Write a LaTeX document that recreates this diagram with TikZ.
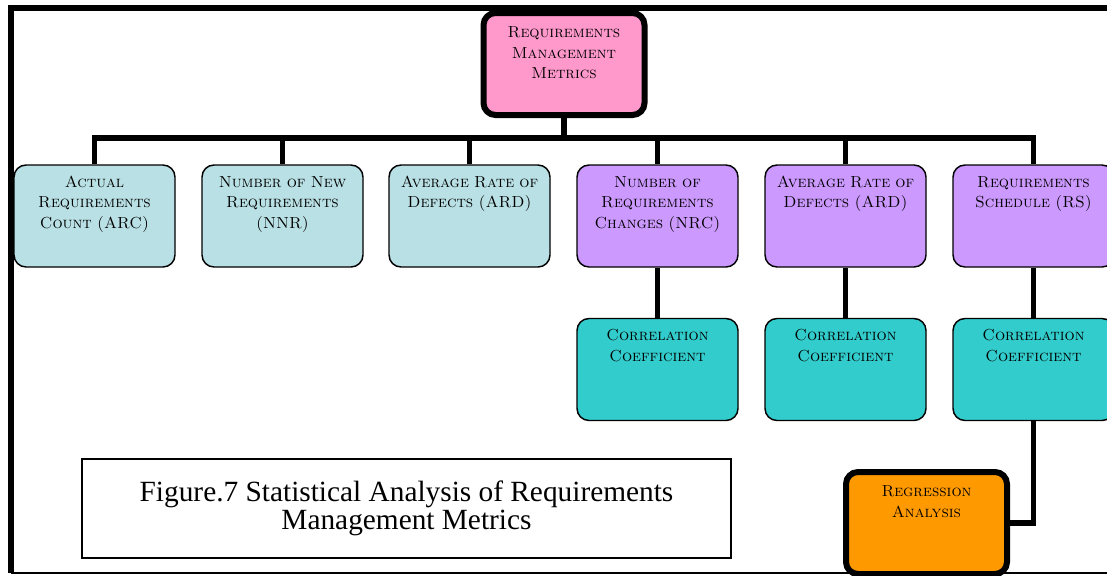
\documentclass[tikz,border=0pt]{standalone}
\usepackage{fontspec}
\newfontfamily\figfont{Liberation Serif}
\definecolor{rootpink}{RGB}{255,153,204}
\definecolor{paleblue}{RGB}{185,224,228}
\definecolor{lilac}{RGB}{204,153,255}
\definecolor{corrteal}{RGB}{51,204,204}
\definecolor{regorange}{RGB}{255,153,0}
\begin{document}
\begin{tikzpicture}[x=0.75pt,y=-0.75pt,
        metric/.style={draw,line width=1.1pt,rounded corners=9pt,minimum width=120.75pt,
            text width=114pt,align=center,inner ysep=7.5pt,text height=9pt,text depth=52.5pt,
            font=\fontsize{12}{15.4}\selectfont\scshape},
        bigmetric/.style={metric,line width=4.5pt,text height=11pt,text depth=50.5pt},
        link/.style={line width=4.2pt}]
                \useasboundingbox (0,0) rectangle (1107,575);
                \draw[line width=4.5pt] (1115,8) -- (11,8) -- (11,573);
                \draw[line width=1.1pt] (11,573) -- (1115,573);
                \node[bigmetric,fill=rootpink] (rmm) at (564,64) {Requirements\\Management\\Metrics};
                \coordinate (bus) at (564,138);
                \node[metric,fill=paleblue] (arc) at (94.5,216) {Actual\\Requirements\\Count (ARC)};
                \node[metric,fill=paleblue] (nnr) at (282.5,216) {Number of New\\Requirements\\(NNR)};
                \node[metric,fill=paleblue] (ard) at (469.5,216) {Average Rate of\\Defects (ARD)};
                \node[metric,fill=lilac] (nrc) at (657.5,216) {Number of\\Requirements\\Changes (NRC)};
                \node[metric,fill=lilac] (ardb) at (845.5,216) {Average Rate of\\Defects (ARD)};
                \node[metric,fill=lilac] (rs) at (1033.5,216) {Requirements\\Schedule (RS)};
                \node[metric,fill=corrteal] (ccnrc) at (657.5,369.5) {Correlation\\Coefficient};
                \node[metric,fill=corrteal] (ccard) at (845.5,369.5) {Correlation\\Coefficient};
                \node[metric,fill=corrteal] (ccrs) at (1033.5,369.5) {Correlation\\Coefficient};
                \node[bigmetric,fill=regorange] (ra) at (926.5,523) {Regression\\Analysis};
                \draw[link] (rmm) -- (bus);
                \draw[link] (arc.north) |- (bus);
                \draw[link] (nnr.north) |- (bus);
                \draw[link] (ard.north) |- (bus);
                \draw[link] (nrc.north) |- (bus);
                \draw[link] (ardb.north) |- (bus);
                \draw[link] (rs.north) |- (bus);
                \draw[link] (nrc) -- (ccnrc);
                \draw[link] (ardb) -- (ccard);
                \draw[link] (rs) -- (ccrs);
                \draw[link] (ccrs) |- (ra);
                \node[draw,line width=1.2pt,minimum width=486.75pt,minimum height=74.25pt,align=center,
                    font=\figfont\fontsize{22}{21}\selectfont] (fig) at (406.5,508.5)
                    {Figure.7 Statistical Analysis of Requirements\\Management Metrics};
            \end{tikzpicture}
\end{document}
